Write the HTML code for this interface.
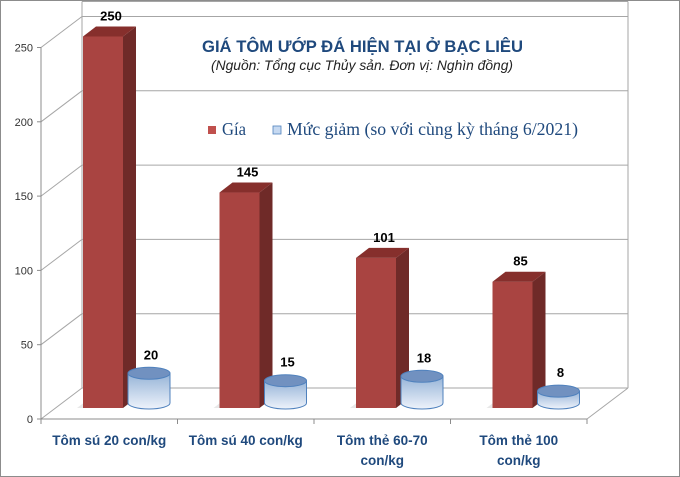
<!DOCTYPE html>
<html><head><meta charset="utf-8">
<style>
body{margin:0;background:#fff;}
svg{display:block;font-family:"Liberation Sans",sans-serif;}
</style></head>
<body>
<svg id="chart" width="680" height="477" viewBox="0 0 680 477">
<defs>
<linearGradient id="cyl" x1="0" y1="0" x2="0" y2="1">
<stop offset="0" stop-color="#95b3d7"/><stop offset="1" stop-color="#eef3fb"/>
</linearGradient>
</defs>
<rect x="0.5" y="0.5" width="679" height="476" fill="#fff" stroke="#8c8c8c"/>
<g id="grid"></g>
<g id="marks"></g>
<text x="202" y="52" font-size="17" font-weight="bold" fill="#1f497d" textLength="321" lengthAdjust="spacingAndGlyphs">GIÁ TÔM ƯỚP ĐÁ HIỆN TẠI Ở BẠC LIÊU</text>
<text x="211" y="70" font-size="13.5" font-style="italic" fill="#222" textLength="302" lengthAdjust="spacingAndGlyphs">(Nguồn: Tổng cục Thủy sản. Đơn vị: Nghìn đồng)</text>
<g font-family="'Liberation Serif',serif" font-size="17.5" fill="#1f497d">
<rect x="208" y="126" width="8" height="8" fill="#c0504d"/>
<text x="222" y="135" textLength="24" lengthAdjust="spacingAndGlyphs">Gía</text>
<rect x="273" y="126" width="8" height="8" fill="#c6d9f1" stroke="#4f81bd" stroke-width="0.8"/>
<text x="287" y="135" textLength="291" lengthAdjust="spacingAndGlyphs">Mức giảm (so với cùng kỳ tháng 6/2021)</text>
</g>
</svg>
<script>
const categories = [["Tôm sú 20 con/kg"],["Tôm sú 40 con/kg"],["Tôm thẻ 60-70","con/kg"],["Tôm thẻ 100","con/kg"]];
const priceValues = [250,145,101,85];
const dropValues = [20,15,18,8];
const yTicks = [0,50,100,150,200,250];
const NS="http://www.w3.org/2000/svg";
const grid=document.getElementById('grid'), marks=document.getElementById('marks');
const X0=41, Y0=419, PLOT_W=546, DX=41, DY=31, SCALE=74.3/50;
const yF=v=>Y0-v*SCALE;
const catW=PLOT_W/categories.length;
function el(p,tag,attrs){const e=document.createElementNS(NS,tag);for(const k in attrs)e.setAttribute(k,attrs[k]);p.appendChild(e);return e;}
yTicks.forEach(t=>{
  const y=yF(t);
  const l=el(grid,'line',{x1:X0+DX,y1:y-DY,x2:X0+DX+PLOT_W,y2:y-DY,stroke:'#a6a6a6','stroke-width':1});
  
  
  const d=el(grid,'line',{x1:X0,y1:y,x2:X0+DX,y2:y-DY,stroke:'#a6a6a6','stroke-width':1});
  
  
  el(grid,'line',{x1:X0-4,y1:y,x2:X0,y2:y,stroke:'#8c8c8c'});
  const tx=el(grid,'text',{x:X0-8,y:y+4,'text-anchor':'end','font-size':11,fill:'#333'});
  tx.textContent=t;
  
  
});
el(grid,'line',{x1:X0,y1:Y0,x2:X0,y2:yF(250),stroke:'#8c8c8c'});
el(grid,'line',{x1:X0,y1:Y0,x2:X0+PLOT_W,y2:Y0,stroke:'#8c8c8c'});
el(grid,'line',{x1:X0+PLOT_W,y1:Y0,x2:X0+PLOT_W+DX,y2:Y0-DY,stroke:'#a6a6a6'});
el(grid,'line',{x1:X0+DX,y1:Y0-DY,x2:X0+DX,y2:yF(250)-DY-15,stroke:'#a6a6a6'});
el(grid,'line',{x1:X0+DX+PLOT_W,y1:Y0-DY,x2:X0+DX+PLOT_W,y2:yF(250)-DY-15,stroke:'#a6a6a6'});
el(grid,'line',{x1:X0+DX,y1:yF(250)-DY-15,x2:X0+DX+PLOT_W,y2:yF(250)-DY-15,stroke:'#a6a6a6'});
const BASE=408, CBASE=403;
categories.forEach((c,i)=>{
  el(grid,'line',{x1:X0+i*catW,y1:Y0,x2:X0+i*catW,y2:Y0+5,stroke:'#8c8c8c'});
  if(i===categories.length-1) el(grid,'line',{x1:X0+(i+1)*catW,y1:Y0,x2:X0+(i+1)*catW,y2:Y0+5,stroke:'#8c8c8c'});
  const cx=X0+catW*(i+0.5);
  c.forEach((ln,j)=>{
    const t=el(grid,'text',{x:cx,y:445+j*20,'text-anchor':'middle','font-size':13.5,'font-weight':'bold',fill:'#1f497d'});
    t.textContent=ln;
    
    
  });
  const bx=X0+catW*i+42, bw=40, top=BASE-priceValues[i]*SCALE, dx=13, dy=10;
  const g=el(marks,'g',{});
  
  
  el(g,'polygon',{points:`${bx-6},${BASE} ${bx+bw},${BASE} ${bx+bw+dx},${BASE-dy} ${bx+dx-6},${BASE-dy}`,fill:'#d9d9d9',opacity:0.6});
  el(g,'rect',{x:bx,y:top,width:bw,height:BASE-top,fill:'#a94441'});
  el(g,'polygon',{points:`${bx+bw},${top} ${bx+bw+dx},${top-dy} ${bx+bw+dx},${BASE-dy} ${bx+bw},${BASE}`,fill:'#6f2a28'});
  el(g,'polygon',{points:`${bx},${top} ${bx+dx},${top-dy} ${bx+bw+dx},${top-dy} ${bx+bw},${top}`,fill:'#862f2c'});
  const lt=el(marks,'text',{x:bx+bw/2+8,y:top-16,'text-anchor':'middle','font-size':13,'font-weight':'bold',fill:'#000'});
  lt.textContent=priceValues[i];
  
  
  const ccx=bx+66, rx=21, ry=6, ctop=CBASE-dropValues[i]*SCALE;
  const cg=el(marks,'g',{});
  
  
  el(cg,'path',{d:`M${ccx-rx},${ctop} L${ccx-rx},${CBASE} A${rx},${ry} 0 0 0 ${ccx+rx},${CBASE} L${ccx+rx},${ctop} Z`,fill:'url(#cyl)',stroke:'#4f81bd','stroke-width':1});
  el(cg,'ellipse',{cx:ccx,cy:ctop,rx:rx,ry:ry,fill:'#7191c0',stroke:'#4f81bd','stroke-width':1});
  const ct=el(marks,'text',{x:ccx+2,y:ctop-14,'text-anchor':'middle','font-size':13,'font-weight':'bold',fill:'#000'});
  ct.textContent=dropValues[i];
  
  
});
</script>
</body></html>
